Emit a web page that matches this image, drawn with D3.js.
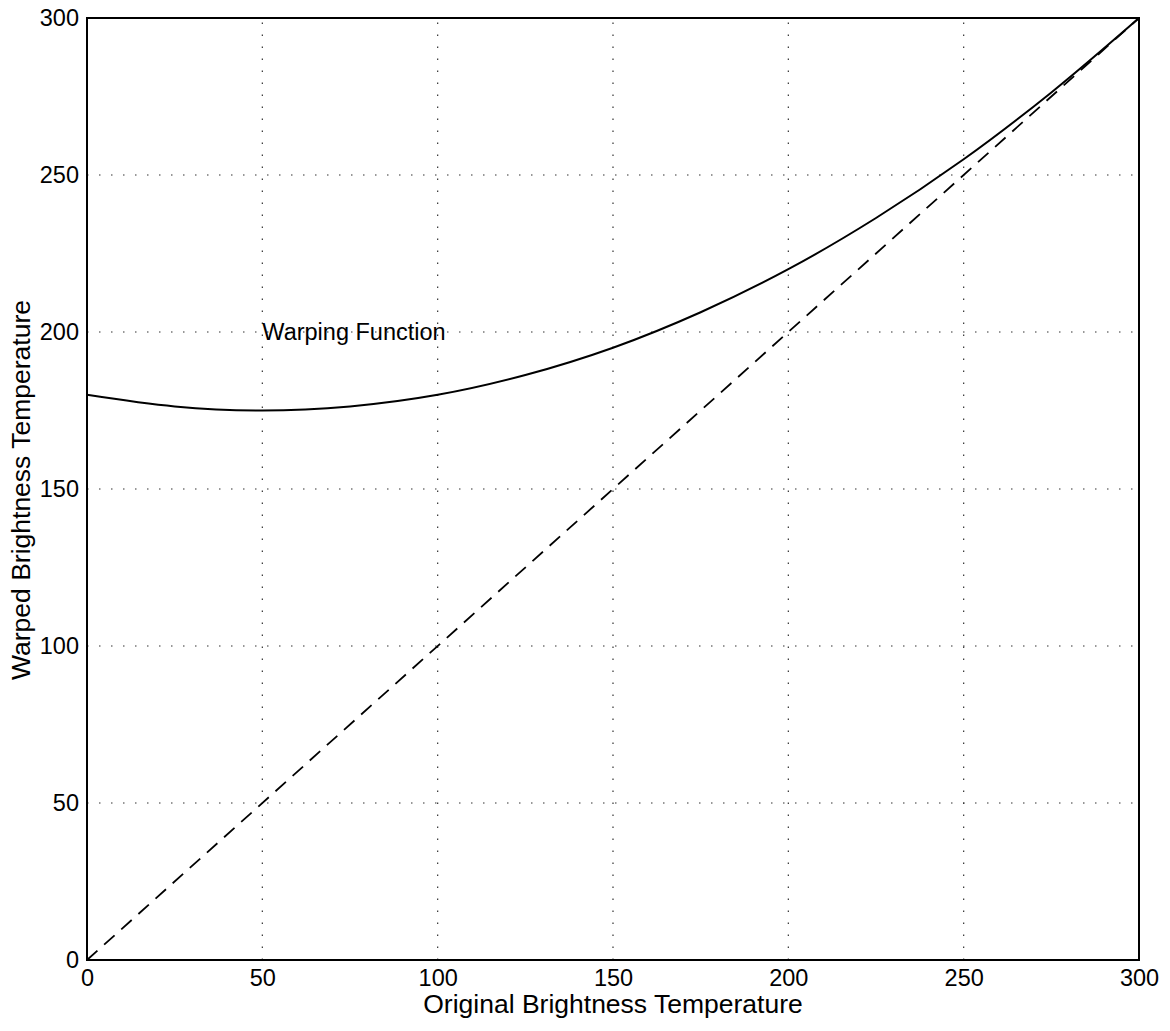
<!DOCTYPE html>
<html>
<head>
<meta charset="utf-8">
<script src="https://cdn.jsdelivr.net/npm/d3@7"></script>
<style>
  html, body { margin: 0; padding: 0; background: #fff; }
  svg { display: block; }
  text { font-family: "Liberation Sans", Arial, Helvetica, sans-serif; fill: #000; }
</style>
</head>
<body>
<svg id="chart" width="1170" height="1031"></svg>
<script>
// Data
const xTicks = [0, 50, 100, 150, 200, 250, 300];
const yTicks = [0, 50, 100, 150, 200, 250, 300];
const originalTemp = [0, 25, 50, 75, 100, 125, 150, 175, 200, 225, 250, 275, 300];
const warpedTemp = [180, 176.3, 175, 176.3, 180, 186.3, 195, 206.3, 220, 236.3, 255, 276.3, 300];
const identityX = [0, 300];
const identityY = [0, 300];
const annotation = { text: "Warping Function", x: 50, y: 200 };
const xTitle = "Original Brightness Temperature";
const yTitle = "Warped Brightness Temperature";

const svg = d3.select("#chart");
const m = { left: 87, top: 18, right: 1170 - 1139, bottom: 1031 - 960 };
const W = 1170 - m.left - m.right, H = 1031 - m.top - m.bottom;

const x = d3.scaleLinear().domain([0, 300]).range([m.left, m.left + W]);
const y = d3.scaleLinear().domain([0, 300]).range([m.top + H, m.top]);

// grid
const grid = svg.append("g");
grid.selectAll("line.vx").data(xTicks.filter(d => d > 0 && d < 300)).join("line")
  .attr("x1", d => x(d)).attr("x2", d => x(d)).attr("y1", y(0)).attr("y2", y(300))
  .attr("stroke", "#333").attr("stroke-width", 1.2).attr("stroke-dasharray", "1.5,10.5");
grid.selectAll("line.hy").data(yTicks.filter(d => d > 0 && d < 300)).join("line")
  .attr("y1", d => y(d)).attr("y2", d => y(d)).attr("x1", x(0)).attr("x2", x(300))
  .attr("stroke", "#333").attr("stroke-width", 1.2).attr("stroke-dasharray", "1.5,10.5");

// axes
const xAxis = d3.axisBottom(x).tickValues(xTicks).tickSize(0).tickPadding(9);
const yAxis = d3.axisLeft(y).tickValues(yTicks).tickSize(0).tickPadding(8);
const gx = svg.append("g").attr("transform", `translate(0,${y(0)})`).call(xAxis);
const gy = svg.append("g").attr("transform", `translate(${x(0)},0)`).call(yAxis);
[gx, gy].forEach(g => {
  g.select(".domain").remove();
  g.selectAll("text").style("font-size", "23.5px").style("font-family", '"Liberation Sans", Arial, sans-serif');
});

// frame
svg.append("rect").attr("x", x(0)).attr("y", y(300)).attr("width", W).attr("height", H)
  .attr("fill", "none").attr("stroke", "#000").attr("stroke-width", 2);

// identity dashed line
svg.append("path")
  .datum(identityX.map((d, i) => [d, identityY[i]]))
  .attr("d", d3.line().x(d => x(d[0])).y(d => y(d[1])))
  .attr("fill", "none").attr("stroke", "#000").attr("stroke-width", 1.8)
  .attr("stroke-dasharray", "14,9");

// warping curve
svg.append("path")
  .datum(originalTemp.map((d, i) => [d, warpedTemp[i]]))
  .attr("d", d3.line().curve(d3.curveCatmullRom).x(d => x(d[0])).y(d => y(d[1])))
  .attr("fill", "none").attr("stroke", "#000").attr("stroke-width", 2);

// annotation
svg.append("text").attr("x", x(annotation.x)).attr("y", y(annotation.y))
  .attr("dy", "0.35em").style("font-size", "23.5px").text(annotation.text);

// titles
svg.append("text").attr("x", m.left + W / 2).attr("y", 1013)
  .attr("text-anchor", "middle").style("font-size", "26.5px").text(xTitle);
svg.append("text").attr("transform", `translate(30,${m.top + H / 2 + 1}) rotate(-90)`)
  .attr("text-anchor", "middle").style("font-size", "26.5px").text(yTitle);
</script>
</body>
</html>
